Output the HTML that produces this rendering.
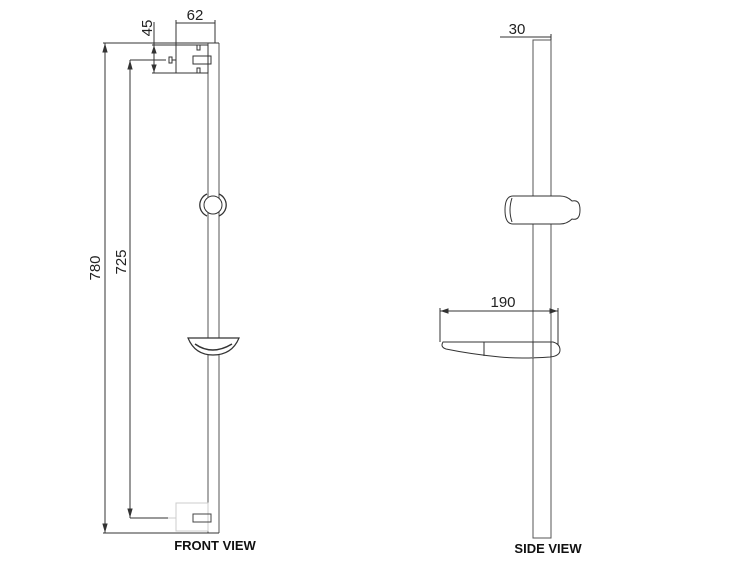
<!DOCTYPE html>
<html><head><style>
body{margin:0;background:#fff;}
svg{display:block}
text{font-family:"Liberation Sans",sans-serif;}
</style></head><body>
<svg width="734" height="578" viewBox="0 0 734 578" xmlns="http://www.w3.org/2000/svg" fill="none" stroke="#333" stroke-width="1">
<line x1="208" y1="43" x2="208" y2="533" stroke="#555"/>
<line x1="219" y1="43" x2="219" y2="533" stroke="#555"/>
<line x1="105" y1="43" x2="105" y2="533"/>
<line x1="103" y1="43" x2="219" y2="43"/>
<line x1="103" y1="533" x2="219" y2="533"/>
<polygon points="105,45 103,52 107,52" fill="#333"/>
<polygon points="105,531 103,524 107,524" fill="#333"/>
<text x="100" y="268" font-size="15" fill="#222" stroke="none" transform="rotate(-90 100 268)" text-anchor="middle">780</text>
<line x1="130" y1="60" x2="130" y2="518"/>
<line x1="130" y1="60" x2="166" y2="60"/>
<line x1="130" y1="518" x2="168" y2="518"/>
<polygon points="130,62 128,69 132,69" fill="#333"/>
<polygon points="130,516 128,509 132,509" fill="#333"/>
<text x="126" y="262" font-size="15" fill="#222" stroke="none" transform="rotate(-90 126 262)" text-anchor="middle">725</text>
<rect x="176" y="45" width="32" height="28"/>
<path d="M197 45 v5 h3 v-5 M197 73 v-5 h3 v5"/>
<rect x="193" y="56" width="15" height="8"/>
<rect x="208" y="56" width="3" height="8"/>
<path d="M176 60 h-4 v-3 h-3 v6 h3 v-3"/>
<line x1="154" y1="22" x2="154" y2="73"/>
<line x1="152" y1="45" x2="176" y2="45"/>
<line x1="152" y1="73" x2="176" y2="73"/>
<polygon points="154,47 152,53 156,53" fill="#333"/>
<polygon points="154,71 152,65 156,65" fill="#333"/>
<text x="152" y="28" font-size="15" fill="#222" stroke="none" transform="rotate(-90 152 28)" text-anchor="middle">45</text>
<line x1="176" y1="20" x2="176" y2="45"/>
<line x1="215" y1="20" x2="215" y2="43"/>
<line x1="176" y1="23" x2="215" y2="23"/>
<text x="195" y="20" font-size="15" fill="#222" stroke="none" text-anchor="middle">62</text>
<circle cx="213" cy="205" r="9" fill="#fff"/>
<path d="M207 194 A12 12 0 0 0 207 216 M219 194 A12 12 0 0 1 219 216" stroke-width="1.3"/>
<path d="M188 338 H239 Q232 355 213 355 Q195 355 188 338 Z" fill="#fff" stroke-width="1.2"/>
<path d="M195 344 Q212 356 232 344" stroke-width="1.5"/>
<g stroke="#ccc">
<rect x="176" y="503" width="32" height="28"/>
<path d="M168 518 h8"/>
</g>
<rect x="193" y="514" width="18" height="8" stroke="#444"/>
<rect x="533" y="40" width="18" height="498" stroke="#555"/>
<line x1="500" y1="37" x2="551" y2="37"/>
<line x1="551" y1="34" x2="551" y2="40"/>
<text x="517" y="34" font-size="15" fill="#222" stroke="none" text-anchor="middle">30</text>
<path d="M513 196 H560 Q567 196 572 201 Q580 199 580 210 Q580 221 572 219 Q567 224 560 224 H513 Q505 224 505 210 Q505 196 513 196 Z" fill="#fff"/>
<path d="M512 198 Q508 210 512 222"/>
<line x1="440" y1="311" x2="558" y2="311"/>
<line x1="440" y1="308" x2="440" y2="342"/>
<line x1="558" y1="308" x2="558" y2="353"/>
<polygon points="442,311 448,309 448,313" fill="#333"/>
<polygon points="556,311 550,309 550,313" fill="#333"/>
<text x="503" y="307" font-size="15" fill="#222" stroke="none" text-anchor="middle">190</text>
<path d="M443 342 H553 Q560 344 560 350 Q560 356 550 357 Q520 359 500 357 Q470 354 446 349 Q440 347 443 342 Z" fill="#fff"/>
<line x1="484" y1="342" x2="484" y2="356"/>
<line x1="533" y1="342" x2="533" y2="357"/>
<line x1="551" y1="342" x2="551" y2="357"/>
<text x="215" y="550" font-size="13" font-weight="bold" fill="#111" stroke="none" text-anchor="middle">FRONT VIEW</text>
<text x="548" y="553" font-size="13" font-weight="bold" fill="#111" stroke="none" text-anchor="middle">SIDE VIEW</text>
</svg>
</body></html>
